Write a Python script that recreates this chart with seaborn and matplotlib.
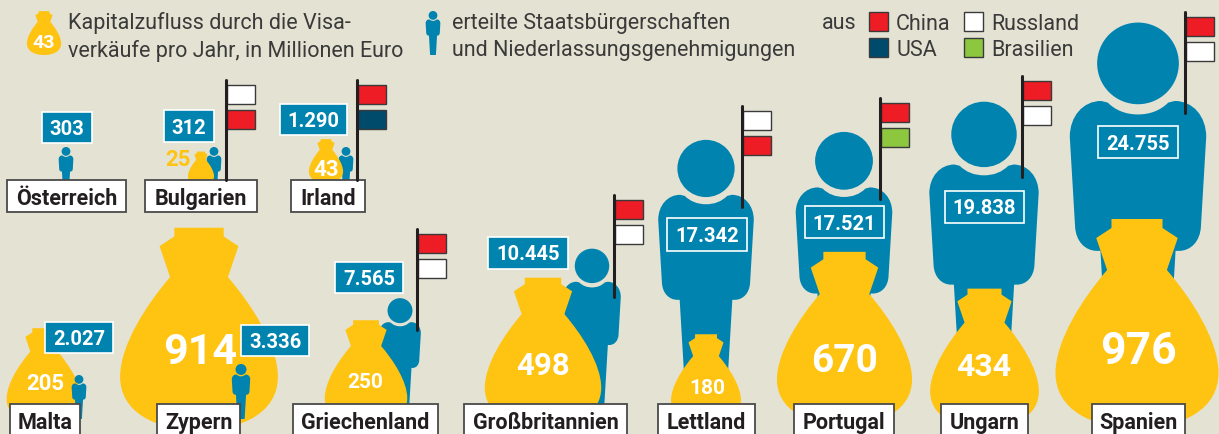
import numpy as np
import pandas as pd
import matplotlib
matplotlib.use("Agg")
import matplotlib.pyplot as plt
from matplotlib.path import Path
from matplotlib.patches import Rectangle
import seaborn as sns

# ---------- data ----------
countries = ["Österreich", "Bulgarien", "Irland", "Malta", "Zypern", "Griechenland",
             "Großbritannien", "Lettland", "Portugal", "Ungarn", "Spanien"]
permits = [303, 312, 1290, 2027, 3336, 7565, 10445, 17342, 17521, 19838, 24755]
permit_labels = ["303", "312", "1.290", "2.027", "3.336", "7.565",
                 "10.445", "17.342", "17.521", "19.838", "24.755"]
capital = [0, 25, 43, 205, 914, 250, 498, 180, 670, 434, 976]
origins = [[], ["Russland", "China"], ["China", "USA"], [], [], ["China", "Russland"],
           ["China", "Russland"], ["Russland", "China"], ["China", "Brasilien"],
           ["China", "Russland"], ["China", "Russland"]]
legend_text_bag = "Kapitalzufluss durch die Visa-\nverkäufe pro Jahr, in Millionen Euro"
legend_text_person = "erteilte Staatsbürgerschaften\nund Niederlassungsgenehmigungen"
legend_bag_value = 43

# ---------- styles ----------
BG, BLUE, YELLOW, DARK = "#E4E3D3", "#0083AE", "#FFC312", "#231F20"
FLAG = {"China": "#EE1C25", "USA": "#004A6C", "Russland": "#FFFFFF", "Brasilien": "#8DC63F"}
FONT = "Roboto"

# ---------- layout (pixels of the sheet) ----------
person_x = [66, 214, 346, 79, 241, 400, 592, 706, 844, 984, 1138]
person_base = [191, 191, 191, 419, 419, 423, 421, 426, 421, 429, 431]
person_front = [0, 0, 0, 1, 1, 0, 0, 0, 0, 0, 0]
bag_x = [0, 201, 326, 44, 199, 366, 543, 706, 844.5, 984.5, 1137]
bag_base = [0, 185, 183, 424, 430, 426, 427, 424, 425, 428, 428]
name_box = [(7, 126, 180), (145, 257, 180), (291, 365, 180), (10, 80, 404), (157, 240, 404),
            (293, 438, 404), (464, 627, 404), (658, 755, 404), (794, 894, 404),
            (941, 1028, 404), (1092, 1185, 404)]
value_box = [(42, 92, 112, 143), (164, 214, 110, 142), (280, 347, 104, 135),
             (45, 113, 322, 353), (241, 309, 325, 356), (335, 403, 262, 293),
             (488, 568, 237, 269), (667, 747, 218, 251), (805, 884, 206, 238),
             (945, 1024, 191, 223), (1098, 1178, 126, 158)]
pole = [None, (226, 80, 180), (357, 80, 180), None, None, (417, 229, 330), (614, 195, 297),
        (742, 106, 207), (880, 98, 199), (1022, 76, 177), (1185, 12, 113)]
bag_text = [None, (178, 157, 16), (326, 167, 16), (45, 381, 16), (200, 348, 31), (365, 381, 15),
            (543, 363, 22.5), (707, 386, 15), (845, 357, 28), (984, 364, 23), (1138, 347, 32)]

# ---------- glyphs ----------
def mirror(right):
    """Closed path from the right half outline, top to bottom."""
    verts, codes = [right[0]], [Path.MOVETO]
    for seg in right[1:]:
        k = Path.CURVE4 if len(seg) == 3 else Path.LINETO
        for p in seg:
            verts.append(p); codes.append(k)
    pts = verts[::-1]
    cds = codes[::-1]
    for i in range(1, len(pts)):
        verts.append((-pts[i][0], pts[i][1]))
        codes.append(cds[i - 1])
    verts.append(verts[0]); codes.append(Path.CLOSEPOLY)
    return Path(verts, codes)

BAG = mirror([(0, 1), [(.122, 1)], [(.122, .957)], [(.195, .909)], [(.143, .756)],
              [(.26, .62), (.39, .42), (.39, .263)], [(.39, .09), (.22, 0), (0, 0)]])
BODY = mirror([(0, .775), [(.03, .775), (.055, .785), (.074, .804)], [(.09, .808)],
               [(.135, .808), (.167, .77), (.167, .72)], [(.154, .50)],
               [(.152, .465), (.13, .441), (.10, .441)], [(.092, .441)], [(.066, 0)], [(0, 0)]])
PERSON = Path.make_compound_path(Path.circle((0, .9), .1), BODY)

DPI = 100
def marker_size(h_px):
    return (2 * h_px * 72 / DPI) ** 2
def person_h(v):
    return max(44.0, .0165 * v)
def bag_h(v):
    return 6.69 * np.sqrt(v)

def glyphs(ax, x, y, keys, heights, path, color, z):
    df = pd.DataFrame({"x": x, "y": y, "key": keys})
    sizes = {k: marker_size(h) for k, h in zip(keys, heights)}
    return sns.scatterplot(data=df, x="x", y="y", size="key", sizes=sizes, marker=path,
                           color=color, edgecolor="none", linewidth=0, legend=False, ax=ax, zorder=z)

# ---------- figure ----------
sns.set_theme(style="white", rc={"figure.facecolor": BG, "axes.facecolor": BG})
plt.rcParams["font.family"] = [FONT, "DejaVu Sans"]
fig = plt.figure(figsize=(12.19, 4.34), dpi=DPI)
ax = fig.add_axes([0, 0, 1, 1])

idx = np.arange(len(countries))
cap = np.array(capital, float)
per = np.array(permits, float)
front = np.array(person_front, bool)
back = idx[~front]; fr = idx[front]; has_bag = idx[cap > 0]

glyphs(ax, np.array(person_x)[back], np.array(person_base)[back], per[back],
       [person_h(v) for v in per[back]], PERSON, BLUE, 2)
glyphs(ax, np.array(bag_x)[has_bag], np.array(bag_base)[has_bag], cap[has_bag],
       [bag_h(v) for v in cap[has_bag]], BAG, YELLOW, 3)
glyphs(ax, np.array(person_x)[fr], np.array(person_base)[fr], per[fr],
       [person_h(v) for v in per[fr]], PERSON, BLUE, 4)
# legend glyphs
glyphs(ax, [44], [55], [legend_bag_value], [bag_h(legend_bag_value)], BAG, YELLOW, 3)
glyphs(ax, [433], [55], [1], [44], PERSON, BLUE, 3)

def box(x0, x1, y0, y1, fc, ec, lw, z):
    ax.add_patch(Rectangle((x0, y0), x1 - x0, y1 - y0, fc=fc, ec=ec, lw=lw, zorder=z, clip_on=True))

def txt(x, y, s, size, color, weight="bold", ha="center", va="center_baseline", z=8, **kw):
    ax.text(x, y, s, fontsize=size, color=color, fontweight=weight, ha=ha, va=va, zorder=z, **kw)

for i, name in enumerate(countries):
    x0, x1, y0 = name_box[i]
    y1 = y0 + 32 if y0 < 300 else 440
    box(x0, x1, y0, y1, "white", "#4A4A4A", 1.3, 6)
    txt((x0 + x1) / 2, y0 + 16.5, name, 15.5, DARK)

    vx0, vx1, vy0, vy1 = value_box[i]
    box(vx0, vx1, vy0, vy1, BLUE, "white", 1.2, 6)
    txt((vx0 + vx1) / 2, (vy0 + vy1) / 2, permit_labels[i], 14.5, "white")

    if bag_text[i]:
        bx, by, bs = bag_text[i]
        txt(bx, by, str(capital[i]), bs, YELLOW if name == "Bulgarien" else "white")

    if pole[i]:
        px, ptop, pbot = pole[i]
        ax.plot([px, px], [ptop, pbot], color=DARK, lw=2.2, solid_capstyle="round", zorder=7)
        for j, origin in enumerate(origins[i]):
            fy = ptop + 5 + j * 25
            box(px + 1, px + 29, fy, fy + 19, FLAG[origin], "#3A3A3A", 1.0, 6)

txt(44, 41, str(legend_bag_value), 14, "white")

# header legend
REG = {"weight": "normal", "ha": "left"}
LEG = 15.5
l1, l2 = legend_text_bag.split("\n")
txt(68, 21, l1, LEG, "#3A3A3A", **REG)
txt(68, 48, l2, LEG, "#3A3A3A", **REG)
l1, l2 = legend_text_person.split("\n")
txt(452, 21, l1, LEG, "#3A3A3A", **REG)
txt(452, 48, l2, LEG, "#3A3A3A", **REG)
txt(822, 21, "aus", LEG, "#3A3A3A", **REG)
for name, sx, sy in [("China", 869, 12), ("Russland", 964, 12), ("USA", 869, 38), ("Brasilien", 964, 38)]:
    box(sx, sx + 18.5, sy, sy + 18.5, FLAG[name], "#3A3A3A", 1.0, 6)
    txt(sx + 27, sy + 9.5, name, LEG, "#3A3A3A", **REG)

ax.set_xlim(0, 1219)
ax.set_ylim(434, 0)
ax.axis("off")
fig.savefig("out.png", dpi=DPI, facecolor=BG)
